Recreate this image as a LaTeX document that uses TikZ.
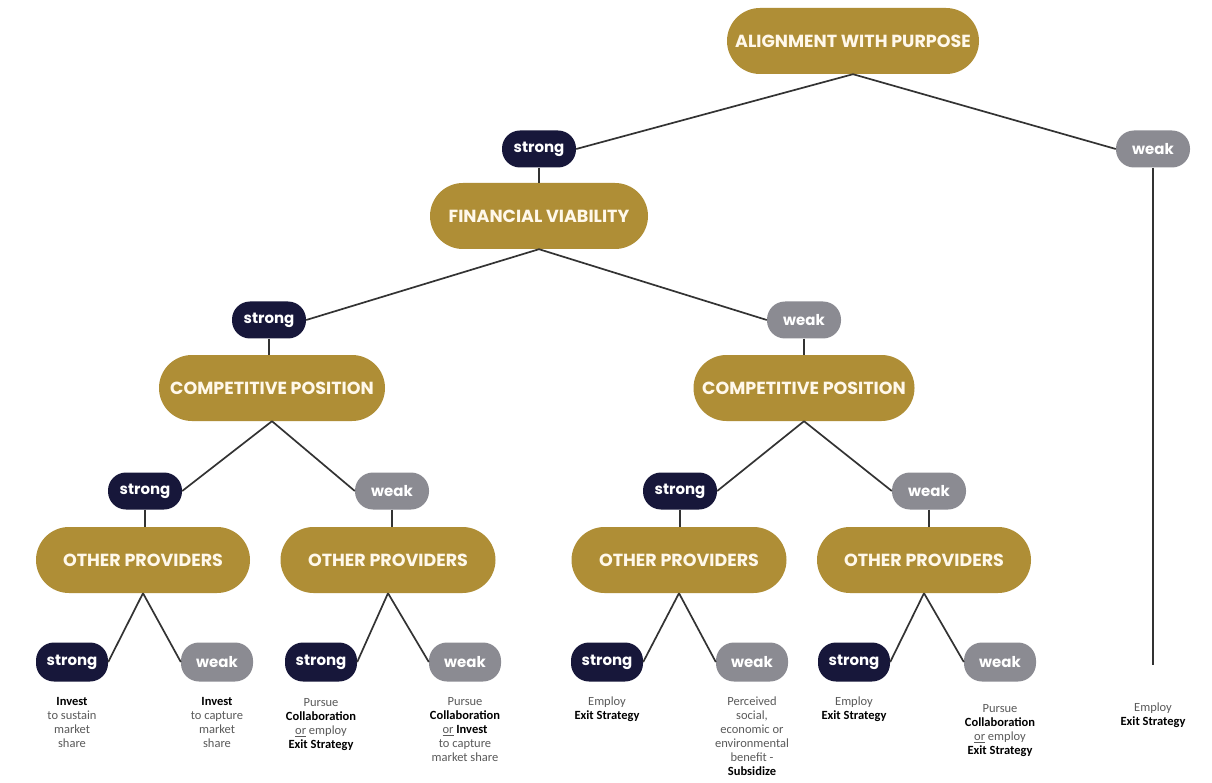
\documentclass[tikz,border=0pt]{standalone}
\usepackage{fontspec}
\setmainfont{Carlito}
\newfontfamily\headfont{Poppins}
\usetikzlibrary{positioning}

\definecolor{gold}{HTML}{AF8E36}
\definecolor{cream}{HTML}{FFF8EA}
\definecolor{navy}{HTML}{17173A}
\definecolor{slate}{HTML}{8B8B92}
\definecolor{wire}{HTML}{333333}
\definecolor{notegray}{HTML}{5A5A5A}

\begin{document}
\begin{tikzpicture}[
    x=1pt, y=-1pt,
    goal/.style={fill=gold, rounded corners=33pt, minimum height=66pt, inner sep=0pt,
                 text=cream, font=\headfont\bfseries\fontsize{17.5}{18}\selectfont},
    strongbox/.style={fill=navy, rounded corners=18pt, minimum width=74pt, minimum height=37pt,
                 inner sep=0pt, text=white, font=\headfont\bfseries\fontsize{15}{15}\selectfont},
    weakbox/.style={strongbox, fill=slate},
    note/.style={anchor=north, align=center, inner sep=0pt, text=notegray,
                 font=\fontsize{12.5}{14}\selectfont},
    link/.style={draw=wire, line width=1.7pt},
    ]
\useasboundingbox[fill=white] (0,0) rectangle (1212,783);

% decision levels
\node[goal, minimum width=252pt] (align) at (853,41) {ALIGNMENT WITH PURPOSE};
\node[strongbox] (s0) at (539,149) {strong};
\node[weakbox] (w0) at (1153,149) {weak};
\node[goal, minimum width=218pt] (fin) at (539,216) {FINANCIAL VIABILITY};
\node[strongbox] (s1) at (269,320) {strong};
\node[weakbox] (w1) at (804,320) {weak};
\node[goal, minimum width=226pt] (compL) at (272,388) {COMPETITIVE POSITION};
\node[goal, minimum width=221pt] (compR) at (804,388) {COMPETITIVE POSITION};
\node[strongbox] (s2a) at (145,491) {strong};
\node[weakbox] (w2a) at (392,491) {weak};
\node[strongbox] (s2b) at (680,491) {strong};
\node[weakbox] (w2b) at (929,491) {weak};
\node[goal, minimum width=214pt] (op1) at (143,560) {OTHER PROVIDERS};
\node[goal, minimum width=215pt] (op2) at (388,560) {OTHER PROVIDERS};
\node[goal, minimum width=215pt] (op3) at (679,560) {OTHER PROVIDERS};
\node[goal, minimum width=214pt] (op4) at (924,560) {OTHER PROVIDERS};

% outcomes
\node[strongbox, minimum width=72pt, minimum height=39pt] (s3a) at (72,662) {strong};
\node[weakbox, minimum width=72pt, minimum height=39pt] (w3a) at (217,662) {weak};
\node[strongbox, minimum width=72pt, minimum height=39pt] (s3b) at (321,662) {strong};
\node[weakbox, minimum width=72pt, minimum height=39pt] (w3b) at (465,662) {weak};
\node[strongbox, minimum width=72pt, minimum height=39pt] (s3c) at (607,662) {strong};
\node[weakbox, minimum width=72pt, minimum height=39pt] (w3c) at (752,662) {weak};
\node[strongbox, minimum width=72pt, minimum height=39pt] (s3d) at (854,662) {strong};
\node[weakbox, minimum width=72pt, minimum height=39pt] (w3d) at (1000,662) {weak};
\coordinate (wend) at (1153,665);

\node[note] (n1) at (72,697) {\textbf{\color{black}Invest}\\to sustain\\market\\share};
\node[note] (n2) at (217,697) {\textbf{\color{black}Invest}\\to capture\\market\\share};
\node[note] (n3) at (321,698) {Pursue\\\textbf{\color{black}Collaboration}\\\underline{or} employ\\\textbf{\color{black}Exit Strategy}};
\node[note] (n4) at (465,697) {Pursue\\\textbf{\color{black}Collaboration}\\\underline{or} \textbf{\color{black}Invest}\\to capture\\market share};
\node[note] (n5) at (607,697) {Employ\\\textbf{\color{black}Exit Strategy}};
\node[note] (n6) at (752,697) {Perceived\\social,\\economic or\\environmental\\benefit -\\\textbf{\color{black}Subsidize}};
\node[note] (n7) at (854,697) {Employ\\\textbf{\color{black}Exit Strategy}};
\node[note] (n8) at (1000,704) {Pursue\\\textbf{\color{black}Collaboration}\\\underline{or} employ\\\textbf{\color{black}Exit Strategy}};
\node[note] (n9) at (1153,703) {Employ\\\textbf{\color{black}Exit Strategy}};

\draw[link] (align.south) -- (s0.east);
\draw[link] (align.south) -- (w0.west);
\draw[link] (w0.south) -- (wend);
\draw[link] (s0.south) -- (fin.north);
\draw[link] (fin.south) -- (s1.east);
\draw[link] (fin.south) -- (w1.west);
\draw[link] (s1.south) -- (s1.south |- compL.north);
\draw[link] (w1.south) -- (w1.south |- compR.north);
\draw[link] (compL.south) -- (s2a.east);
\draw[link] (compL.south) -- (w2a.west);
\draw[link] (compR.south) -- (s2b.east);
\draw[link] (compR.south) -- (w2b.west);
\draw[link] (s2a.south) -- (s2a.south |- op1.north);
\draw[link] (w2a.south) -- (w2a.south |- op2.north);
\draw[link] (s2b.south) -- (s2b.south |- op3.north);
\draw[link] (w2b.south) -- (w2b.south |- op4.north);
\foreach \p/\s/\w in {op1/s3a/w3a, op2/s3b/w3b, op3/s3c/w3c, op4/s3d/w3d} {
  \draw[link] (\p.south) -- (\s.east);
  \draw[link] (\p.south) -- (\w.west);
}
\end{tikzpicture}
\end{document}
